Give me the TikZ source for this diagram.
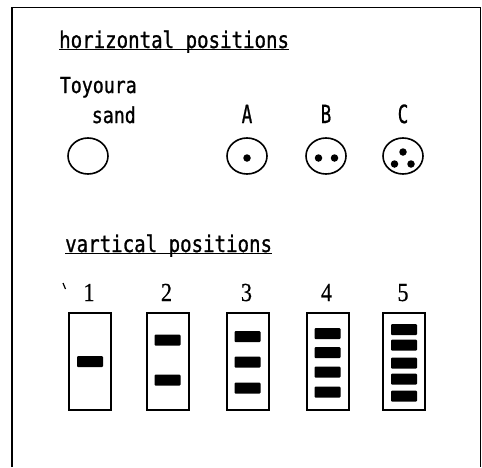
\documentclass[tikz,border=0pt]{standalone}
\usepackage{fontspec}
\newfontfamily\typefont[FakeStretch=0.83, FakeBold=1]{DejaVu Sans Mono}
\newfontfamily\tallfont[FakeStretch=0.7, FakeBold=0.8]{DejaVu Sans Mono}
\newfontfamily\digitfont[FakeStretch=0.85, FakeBold=0.5]{Liberation Serif}
\usetikzlibrary{shapes.geometric, calc, positioning}
\tikzset{
  heading/.style={font=\typefont\fontsize{23}{23}\selectfont, inner sep=0pt, anchor=base west},
  caption/.style={font=\typefont\fontsize{22}{22}\selectfont, inner sep=0pt, anchor=base east},
  letterlabel/.style={font=\tallfont\fontsize{25}{25}\selectfont, inner sep=0pt, anchor=base},
  numlabel/.style={font=\digitfont\fontsize{26}{26}\selectfont, inner sep=0pt, anchor=base},
  sample/.style={ellipse, draw, line width=1.6pt, minimum width=40pt, minimum height=36pt, inner sep=0pt},
  grain/.style={circle, fill, minimum size=7.5pt, inner sep=0pt},
  column/.style={rectangle, draw, line width=2pt, minimum width=42pt, minimum height=97pt, inner sep=0pt},
  layer/.style={rectangle, fill, rounded corners=1pt, minimum width=26pt, minimum height=11pt, inner sep=0pt},
  underline/.style={line width=1.4pt},
}

\begin{document}
\begin{tikzpicture}[x=1pt, y=-1pt]
\useasboundingbox (0,0) rectangle (482,467);

%% ─── FRAME ──────────────────────────────────────────────────
\draw[line width=1.5pt] (12,467) -- (12,7.5) -- (480.5,7.5) -- (480.5,467);

%% ─── HORIZONTAL POSITIONS ───────────────────────────────────
\node[heading] (hhead) at (59,48) {horizontal positions};
\draw[underline] ([yshift=-1.5pt]hhead.base west) -- ([yshift=-1.5pt]hhead.base east);

\node[caption] (toyoura) at (137,93) {Toyoura};
\node[caption] (sand) at (136,123) {sand};

\node[sample] (sampleT) at (88,156) {};
\node[sample] (sampleA) at (247,156) {};
\node[sample] (sampleB) at (326,156) {};
\node[sample] (sampleC) at (403,156) {};

\foreach \s in {A,B,C}{
  \node[letterlabel] (lbl\s) at ($(sample\s)+(0,-33)$) {\s};
}

%% grains inside the samples
\node[grain] (gA1) at ($(sampleA)+(0,2)$) {};
\node[grain] (gB1) at ($(sampleB)+(-7.5,2)$) {};
\node[grain] (gB2) at ($(sampleB)+(8.5,2)$) {};
\node[grain] (gC1) at ($(sampleC)+(0,-4)$) {};
\node[grain] (gC2) at ($(sampleC)+(-8.5,8)$) {};
\node[grain] (gC3) at ($(sampleC)+(8,8)$) {};

%% ─── VERTICAL POSITIONS ─────────────────────────────────────
\node[heading] (vhead) at (65,252) {vartical positions};
\draw[underline] ([yshift=-1.5pt]vhead.base west) -- ([yshift=-1.5pt]vhead.base east);

\draw[line width=1.2pt] (63,283) -- (65.5,289);

\foreach \n/\cx/\offs in {1/90/{0},
                          2/167.5/{-21.5,18.5},
                          3/247.5/{-25,0.5,26.5},
                          4/327.5/{-28,-9,10.5,30.5},
                          5/404/{-32,-16.5,1.5,17.5,34.5}}{
  \node[column] (col\n) at (\cx,361.5) {};
  \node[numlabel] (num\n) at ($(col\n)+(-1,-60.5)$) {\n};
  \foreach \o [count=\k] in \offs{
    \node[layer] (bar\n\k) at ($(col\n)+(0,\o)$) {};
  }
}

\end{tikzpicture}
\end{document}
